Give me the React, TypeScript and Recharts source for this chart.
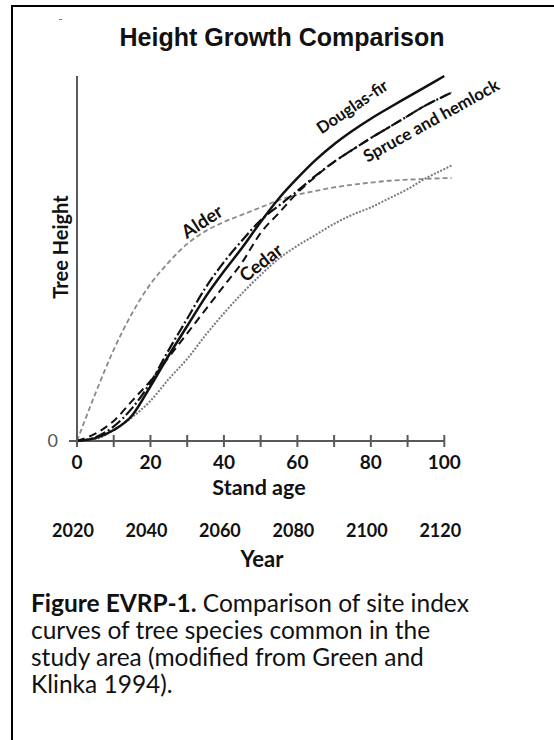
import { Line, LineChart, ReferenceLine, XAxis, YAxis } from "recharts";

// stand age (years) and relative tree height (0-100)
const ages = [0, 5, 10, 15, 20, 25, 30, 35, 40, 45, 50, 55, 60, 65, 70, 75, 80, 85, 90, 95, 100, 102];
const douglasFir = [0, 0.8, 3, 7, 15, 23.5, 31.5, 39.5, 46.5, 53, 60, 66.5, 72, 77, 81.3, 85, 88.3, 91.3, 94.2, 97.1, 100, null];
const spruce = [0, 1, 4, 9, 16, 25, 33.5, 42, 49, 55, 60.5, 64.5, 68.5, 72.7, 76.5, 79.8, 83, 86, 89, 92, 94.5, 95.5];
const hemlock = [0, 2, 5.5, 11, 16.5, 23, 29.5, 36, 42.5, 49, 57, 62.5, 68, 72.5, 76.5, 79.8, 83, 86, 89, 92, 94.5, 95.5];
const alder = [0, 13, 25, 35, 43, 49, 54, 57.5, 60, 62, 64, 66, 67.5, 68.5, 69.5, 70.2, 70.8, 71.3, 71.6, 71.8, 72, 72];
const cedar = [0, 0.5, 3, 6.5, 11, 17, 22.5, 29, 35, 40.5, 45.5, 50, 53.5, 56.5, 59.5, 62, 64, 66.5, 69, 72, 74.5, 75.5];

const ageTicks = [0, 10, 20, 30, 40, 50, 60, 70, 80, 90, 100];
const yearLabels = ["2020", "2040", "2060", "2080", "2100", "2120"];

const data = ages.map((age, i) => ({
  age,
  douglasFir: douglasFir[i],
  spruce: spruce[i],
  hemlock: hemlock[i],
  alder: alder[i],
  cedar: cedar[i],
}));

const AXIS = "#595959";
const FONT = "Lato, 'Open Sans', sans-serif";

const AgeTick = (props: any) => {
  const { x, y, payload } = props;
  const v = payload.value as number;
  const major = v % 20 === 0;
  return (
    <g>
      <line x1={x} x2={x} y1={y - 6} y2={y + 6} stroke={AXIS} strokeWidth={2} />
      {major && (
        <text x={x} y={y + 28} textAnchor="middle" fontFamily={FONT} fontWeight="bold" fontSize={19} fill="#111">
          {v}
        </text>
      )}
      {major && (
        <text x={x - 4} y={y + 96} textAnchor="middle" fontFamily={FONT} fontWeight="bold" fontSize={18} fill="#111">
          {yearLabels[v / 20]}
        </text>
      )}
    </g>
  );
};

const curveLabel = (x: number, y: number, angle: number, text: string, size = 17.5) => (
  <text
    x={x}
    y={y}
    transform={`rotate(${angle} ${x} ${y})`}
    textAnchor="middle"
    dominantBaseline="middle"
    fontFamily={FONT}
    fontWeight="bold"
    fontSize={size}
    fill="#111"
  >
    {text}
  </text>
);

export default function App() {
  return (
    <div
      style={{
        position: "absolute",
        left: 0,
        top: 0,
        width: 554,
        height: 740,
        overflow: "hidden",
        background: "#fff",
      }}
    >
      <div
        style={{
          position: "absolute",
          left: 11,
          top: 5,
          width: 600,
          height: 800,
          border: "2px solid #000",
        }}
      />
      <div style={{ position: "absolute", left: 59, top: 19, width: 3, height: 1, background: "#777" }} />
      <div style={{ position: "absolute", left: 0, top: 0 }}>
        <LineChart width={554} height={740} data={data} margin={{ top: 76, right: 95, bottom: 269, left: 17 }}>
          <XAxis
            dataKey="age"
            type="number"
            domain={[0, 104]}
            ticks={ageTicks}
            axisLine={false}
            tickLine={false}
            tickSize={0}
            tickMargin={0}
            height={30}
            tick={<AgeTick />}
            interval={0}
          />
          <YAxis
            type="number"
            domain={[0, 100]}
            ticks={[0]}
            width={60}
            axisLine={{ stroke: AXIS, strokeWidth: 2 }}
            tickLine={{ stroke: AXIS, strokeWidth: 2 }}
            tickSize={8}
            tickMargin={11}
            tick={{ fill: "#555", fontSize: 18, fontFamily: FONT }}
          />
          <ReferenceLine
            segment={[
              { x: 0, y: 0 },
              { x: 100, y: 0 },
            ]}
            stroke={AXIS}
            strokeWidth={2}
          />
          <Line type="monotone" dataKey="alder" stroke="#8a8a8a" strokeWidth={1.8} strokeDasharray="5 3" dot={false} isAnimationActive={false} />
          <Line type="monotone" dataKey="cedar" stroke="#7a7a7a" strokeWidth={2} strokeDasharray="2 1.5" dot={false} isAnimationActive={false} />
          <Line type="monotone" dataKey="hemlock" stroke="#111" strokeWidth={2} strokeDasharray="8 5" dot={false} isAnimationActive={false} />
          <Line type="monotone" dataKey="spruce" stroke="#111" strokeWidth={2.2} strokeDasharray="11 3 2 3" dot={false} isAnimationActive={false} />
          <Line type="monotone" dataKey="douglasFir" stroke="#111" strokeWidth={2.5} dot={false} isAnimationActive={false} />
        </LineChart>
      </div>
      <svg width={554} height={740} style={{ position: "absolute", left: 0, top: 0, pointerEvents: "none" }}>
        <text x={282} y={46} textAnchor="middle" fontFamily="'Liberation Sans', Arial, sans-serif" fontWeight="bold" fontSize={25} fill="#111">
          Height Growth Comparison
        </text>
        <text x={68} y={247} transform="rotate(-90 68 247)" textAnchor="middle" fontFamily={FONT} fontWeight="bold" fontSize={20} fill="#111">
          Tree Height
        </text>
        {curveLabel(353, 108, -34, "Douglas-fir", 16.5)}
        {curveLabel(432, 122, -29, "Spruce and hemlock", 17)}
        {curveLabel(203, 223, -33, "Alder", 18.5)}
        {curveLabel(262, 264, -38, "Cedar", 18.5)}
        <text x={259} y={495} textAnchor="middle" fontFamily={FONT} fontWeight="bold" fontSize={21.5} fill="#111">
          Stand age
        </text>
        <text x={262} y={567} textAnchor="middle" fontFamily={FONT} fontWeight="bold" fontSize={22} fill="#111">
          Year
        </text>
        <g fontFamily={FONT} fontSize={24.5} fill="#111">
          <text x={31} y={612}>
            <tspan fontWeight="bold">Figure EVRP-1.</tspan> Comparison of site index
          </text>
          <text x={31} y={639}>curves of tree species common in the</text>
          <text x={31} y={666}>study area (modified from Green and</text>
          <text x={31} y={693}>Klinka 1994).</text>
        </g>
      </svg>
    </div>
  );
}
